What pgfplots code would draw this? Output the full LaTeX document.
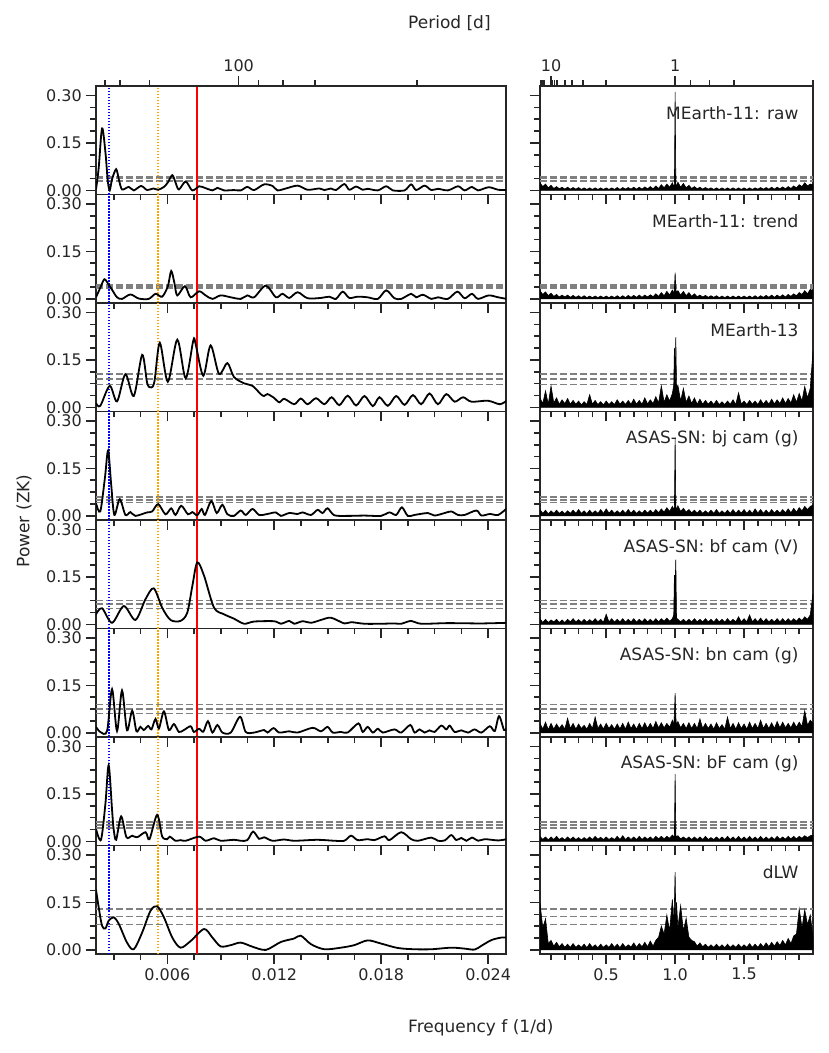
\documentclass[border=0pt]{standalone}
\usepackage{fontspec}
\setmainfont{DejaVu Sans}
\usepackage{pgfplots}
\usepackage{pgfplotstable}
\pgfplotsset{compat=1.18}
\definecolor{dk}{RGB}{38,38,38}
\definecolor{fapgray}{RGB}{128,128,128}
\definecolor{orng}{RGB}{255,165,0}
\newcommand{\tickfont}{\fontsize{16}{19}\selectfont}
\newcommand{\labfont}{\fontsize{17}{20}\selectfont}

\pgfplotstableread{
f r1 r2 r3 r4 r5 r6 r7 r8
0.02 0.024 0.026 0.030 0.020 0.018 0.030 0.016 0.148
0.04 0.012 0.014 0.012 0.008 0.006 0.012 0.006 0.070
0.06 0.020 0.022 0.052 0.018 0.016 0.034 0.014 0.098
0.08 0.008 0.010 0.010 0.006 0.006 0.010 0.005 0.020
0.10 0.016 0.018 0.068 0.016 0.014 0.030 0.014 0.030
0.12 0.006 0.008 0.014 0.008 0.008 0.012 0.006 0.012
0.14 0.012 0.014 0.030 0.018 0.016 0.028 0.016 0.024
0.16 0.005 0.006 0.010 0.008 0.006 0.014 0.006 0.010
0.18 0.010 0.012 0.024 0.015 0.014 0.026 0.012 0.020
0.20 0.004 0.006 0.012 0.007 0.006 0.012 0.005 0.008
0.22 0.010 0.012 0.028 0.016 0.016 0.046 0.014 0.018
0.24 0.004 0.005 0.010 0.008 0.008 0.014 0.006 0.008
0.26 0.009 0.011 0.022 0.018 0.018 0.030 0.014 0.020
0.28 0.004 0.005 0.010 0.008 0.008 0.012 0.006 0.008
0.30 0.009 0.010 0.020 0.020 0.015 0.028 0.012 0.016
0.32 0.003 0.004 0.008 0.008 0.007 0.014 0.005 0.008
0.34 0.008 0.010 0.018 0.016 0.016 0.024 0.012 0.018
0.36 0.003 0.004 0.009 0.007 0.007 0.012 0.006 0.007
0.38 0.008 0.009 0.040 0.018 0.015 0.030 0.014 0.020
0.40 0.003 0.004 0.010 0.008 0.008 0.014 0.006 0.008
0.42 0.008 0.009 0.022 0.016 0.018 0.050 0.016 0.016
0.44 0.003 0.004 0.009 0.008 0.008 0.014 0.007 0.007
0.46 0.008 0.009 0.018 0.020 0.016 0.028 0.013 0.018
0.48 0.003 0.004 0.008 0.008 0.007 0.012 0.006 0.008
0.50 0.008 0.009 0.020 0.022 0.032 0.030 0.014 0.016
0.52 0.003 0.004 0.009 0.009 0.008 0.014 0.006 0.008
0.54 0.008 0.009 0.018 0.018 0.018 0.026 0.012 0.020
0.56 0.003 0.004 0.009 0.008 0.007 0.012 0.006 0.008
0.58 0.009 0.010 0.024 0.016 0.016 0.028 0.016 0.018
0.60 0.003 0.004 0.010 0.008 0.008 0.013 0.006 0.007
0.62 0.009 0.010 0.020 0.018 0.018 0.030 0.018 0.020
0.64 0.004 0.004 0.009 0.008 0.007 0.012 0.006 0.008
0.66 0.009 0.011 0.022 0.020 0.016 0.034 0.014 0.016
0.68 0.004 0.005 0.010 0.009 0.008 0.014 0.006 0.009
0.70 0.010 0.011 0.026 0.018 0.018 0.028 0.014 0.022
0.72 0.004 0.005 0.010 0.008 0.007 0.012 0.006 0.008
0.74 0.010 0.012 0.022 0.016 0.016 0.030 0.016 0.020
0.76 0.004 0.005 0.010 0.008 0.008 0.014 0.006 0.010
0.78 0.011 0.012 0.030 0.018 0.018 0.032 0.014 0.024
0.80 0.005 0.006 0.011 0.009 0.008 0.014 0.007 0.010
0.82 0.012 0.013 0.024 0.018 0.016 0.030 0.014 0.028
0.84 0.005 0.007 0.012 0.009 0.008 0.014 0.006 0.012
0.86 0.014 0.016 0.034 0.020 0.018 0.036 0.016 0.030
0.88 0.006 0.008 0.014 0.010 0.008 0.016 0.008 0.040
0.90 0.018 0.020 0.068 0.022 0.018 0.032 0.016 0.075
0.92 0.008 0.010 0.016 0.012 0.010 0.016 0.008 0.050
0.94 0.020 0.024 0.040 0.026 0.020 0.030 0.016 0.110
0.96 0.010 0.012 0.020 0.014 0.010 0.018 0.010 0.060
0.98 0.024 0.028 0.044 0.030 0.018 0.040 0.020 0.160
0.99 0.012 0.018 0.070 0.020 0.030 0.024 0.014 0.080
0.995 0.020 0.030 0.188 0.030 0.156 0.060 0.020 0.150
1.00 0.311 0.083 0.060 0.247 0.120 0.126 0.213 0.246
1.005 0.022 0.030 0.222 0.030 0.205 0.050 0.020 0.100
1.01 0.012 0.020 0.060 0.020 0.020 0.024 0.014 0.150
1.02 0.026 0.026 0.070 0.032 0.016 0.036 0.018 0.070
1.04 0.010 0.012 0.020 0.014 0.008 0.016 0.008 0.140
1.06 0.022 0.024 0.060 0.024 0.016 0.030 0.014 0.060
1.08 0.008 0.010 0.016 0.012 0.008 0.014 0.007 0.100
1.10 0.016 0.020 0.036 0.020 0.016 0.032 0.014 0.040
1.12 0.006 0.008 0.012 0.010 0.008 0.014 0.006 0.030
1.14 0.012 0.016 0.030 0.018 0.018 0.030 0.014 0.026
1.16 0.005 0.007 0.010 0.009 0.008 0.014 0.006 0.012
1.18 0.010 0.012 0.026 0.018 0.016 0.044 0.014 0.022
1.20 0.004 0.006 0.010 0.008 0.008 0.014 0.006 0.010
1.22 0.009 0.011 0.022 0.016 0.018 0.030 0.016 0.018
1.24 0.004 0.005 0.010 0.008 0.008 0.014 0.006 0.008
1.26 0.008 0.010 0.020 0.018 0.016 0.028 0.012 0.016
1.28 0.003 0.005 0.009 0.008 0.007 0.012 0.006 0.008
1.30 0.008 0.010 0.022 0.020 0.018 0.032 0.014 0.018
1.32 0.003 0.004 0.009 0.008 0.008 0.014 0.006 0.008
1.34 0.008 0.009 0.018 0.016 0.016 0.026 0.014 0.016
1.36 0.003 0.004 0.009 0.008 0.007 0.012 0.006 0.007
1.38 0.008 0.009 0.020 0.018 0.018 0.050 0.016 0.018
1.40 0.003 0.004 0.010 0.008 0.008 0.014 0.006 0.008
1.42 0.008 0.009 0.024 0.020 0.016 0.030 0.014 0.016
1.44 0.003 0.004 0.009 0.008 0.008 0.012 0.006 0.008
1.46 0.008 0.009 0.046 0.018 0.024 0.032 0.016 0.018
1.48 0.003 0.004 0.010 0.009 0.008 0.014 0.006 0.008
1.50 0.008 0.009 0.020 0.020 0.018 0.028 0.014 0.016
1.52 0.003 0.004 0.009 0.008 0.008 0.012 0.006 0.008
1.54 0.008 0.009 0.022 0.018 0.030 0.034 0.016 0.020
1.56 0.003 0.004 0.010 0.008 0.008 0.014 0.006 0.008
1.58 0.008 0.010 0.020 0.022 0.018 0.030 0.014 0.018
1.60 0.004 0.004 0.009 0.009 0.008 0.014 0.006 0.008
1.62 0.009 0.010 0.024 0.020 0.020 0.040 0.016 0.020
1.64 0.004 0.005 0.010 0.008 0.008 0.014 0.006 0.009
1.66 0.009 0.011 0.022 0.018 0.018 0.030 0.014 0.022
1.68 0.004 0.005 0.010 0.008 0.008 0.014 0.006 0.010
1.70 0.010 0.012 0.026 0.020 0.016 0.032 0.014 0.024
1.72 0.004 0.005 0.011 0.009 0.008 0.014 0.006 0.012
1.74 0.010 0.012 0.024 0.018 0.018 0.036 0.016 0.026
1.76 0.005 0.006 0.012 0.009 0.008 0.016 0.007 0.014
1.78 0.011 0.013 0.030 0.020 0.018 0.034 0.014 0.030
1.80 0.005 0.006 0.012 0.010 0.008 0.016 0.007 0.016
1.82 0.012 0.014 0.028 0.022 0.018 0.030 0.016 0.036
1.84 0.006 0.008 0.014 0.010 0.009 0.016 0.008 0.020
1.86 0.014 0.016 0.040 0.024 0.018 0.034 0.016 0.044
1.88 0.008 0.010 0.016 0.012 0.010 0.018 0.008 0.050
1.90 0.018 0.020 0.044 0.026 0.020 0.034 0.016 0.130
1.92 0.012 0.014 0.020 0.016 0.012 0.020 0.010 0.070
1.94 0.024 0.026 0.066 0.030 0.024 0.070 0.018 0.126
1.96 0.014 0.016 0.030 0.020 0.016 0.024 0.012 0.080
1.98 0.020 0.030 0.060 0.030 0.030 0.040 0.018 0.110
2.00 0.018 0.026 0.177 0.034 0.096 0.030 0.020 0.040
}\rtab

\pgfplotsset{
  base/.style={
    scale only axis, height=108.5pt, anchor=north west,
    ymin=-0.013, ymax=0.33,
    ytick={0,0.15,0.3},
    minor ytick={0.0375,0.075,0.1125,0.1875,0.225,0.2625},
    line width=1.8pt,
    axis line style={draw=dk, line width=1.8pt},
    every tick/.style={draw=dk, line width=1.6pt},
    major tick length=10pt, minor tick length=6pt,
    tick align=outside,
    xtick pos=bottom, ytick pos=left,
    ticklabel style={font=\tickfont, text=dk},
    scaled x ticks=false, scaled y ticks=false,
    xticklabels={},
  },
  L/.style={base, width=410pt, xmin=0.002, xmax=0.025,
    xtick={0.006,0.012,0.018,0.024},
    minor xtick={0.003,0.0045,0.0075,0.009,0.0105,0.0135,0.015,0.0165,0.0195,0.021,0.0225},
    yticklabels={0.00,0.15,0.30}},
  R/.style={base, width=273pt, xmin=0.02, xmax=2.0,
    xtick={0.5,1.0,1.5},
    minor xtick={0.1,0.2,0.3,0.4,0.6,0.7,0.8,0.9,1.1,1.2,1.3,1.4,1.6,1.7,1.8,1.9},
    yticklabels={}},
  topax/.style={scale only axis, height=108.5pt, anchor=north west,
    ymin=-0.013, ymax=0.33,
    axis x line*=top, axis y line=none,
    line width=1.8pt,
    axis line style={draw=dk, line width=1.8pt},
    every tick/.style={draw=dk, line width=1.6pt},
    major tick length=10pt, minor tick length=6pt, tick align=outside,
    scaled x ticks=false,
    ticklabel style={font=\tickfont, text=dk}},
  curve/.style={black, line width=1.8pt, smooth, tension=0.5},
  fapline/.style={fapgray, line width=1.5pt, dash pattern=on 7pt off 3pt},
  spec/.style={draw=black, fill=black, line width=0.6pt},
}
\newcommand{\leftextras}[3]{%
  \addplot[fapline] coordinates {(0.002,#1)(0.025,#1)};
  \addplot[fapline] coordinates {(0.002,#2)(0.025,#2)};
  \addplot[fapline] coordinates {(0.002,#3)(0.025,#3)};
  \addplot[blue, line width=1.5pt, dash pattern=on 1.5pt off 1.5pt] coordinates {(0.00274,-0.013)(0.00274,0.33)};
  \addplot[orng, line width=1.5pt, dash pattern=on 1.5pt off 1.5pt] coordinates {(0.00548,-0.013)(0.00548,0.33)};
  \addplot[red, line width=1.5pt] coordinates {(0.00766,-0.013)(0.00766,0.33)};
}
\newcommand{\rightextras}[3]{%
  \addplot[fapline] coordinates {(0.02,#1)(2.0,#1)};
  \addplot[fapline] coordinates {(0.02,#2)(2.0,#2)};
  \addplot[fapline] coordinates {(0.02,#3)(2.0,#3)};
}
\newcommand{\rlabel}[1]{\node[anchor=east, font=\labfont, text=dk, inner sep=0pt] at (rel axis cs:0.95,0.75) {#1};}

\begin{document}
\begin{tikzpicture}
\useasboundingbox (0,0) rectangle (829pt,1053pt);

% ---------- Row 1: MEarth-11 raw
\begin{axis}[L, at={(96pt,967pt)}]
\leftextras{0.043}{0.037}{0.030}
\addplot[curve] coordinates {(0.00200,0.003)(0.00215,0.07)(0.00234,0.196)(0.00253,0.12)(0.00266,0.03)(0.00277,0.0)(0.00290,0.035)(0.00313,0.067)(0.00328,0.035)(0.00346,0.003)(0.00384,0.011)(0.00412,0.0)(0.00453,0.014)(0.00487,0.001)(0.00521,0.006)(0.00549,0.002)(0.00581,0.011)(0.00603,0.025)(0.00628,0.048)(0.00646,0.025)(0.00665,0.003)(0.00703,0.028)(0.00740,0.0)(0.00778,0.013)(0.00796,0.011)(0.00853,0.0)(0.00881,0.008)(0.00918,0.0)(0.00974,0.001)(0.01012,0.0)(0.01049,0.011)(0.01087,0.001)(0.01143,0.019)(0.01190,0.014)(0.01218,0.0)(0.01265,0.006)(0.01331,0.015)(0.01387,0.002)(0.01453,0.006)(0.01481,0.001)(0.01518,0.006)(0.01546,0.001)(0.01593,0.020)(0.01621,0.002)(0.01659,0.012)(0.01696,0.002)(0.01724,0.005)(0.01781,0.0)(0.01828,0.013)(0.01865,0.0)(0.01931,0.0)(0.01968,0.019)(0.01996,0.001)(0.02043,0.015)(0.02081,0.001)(0.02118,0.005)(0.02174,0.0)(0.02231,0.013)(0.02268,0.0)(0.02309,0.011)(0.02343,0.0)(0.02403,0.010)(0.02456,0.002)(0.02503,0.001)};
\end{axis}
\begin{axis}[topax, width=410pt, at={(96pt,967pt)},
  xmin=0.002, xmax=0.025,
  xtick={0.01}, xticklabels={100},
  minor xtick={0.0025,0.003333,0.005,0.011111,0.0125,0.014286,0.02}]
\addplot[draw=none] coordinates {(0.01,0.1)};
\end{axis}
\begin{axis}[R, at={(540pt,967pt)}]
\rightextras{0.043}{0.037}{0.030}
\addplot[spec] table[x=f,y=r1]{\rtab} \closedcycle;
\rlabel{MEarth-11: raw}
\end{axis}
\begin{axis}[topax, width=273pt, at={(540pt,967pt)},
  xmin=0.02, xmax=2.0,
  xtick={0.1,1}, xticklabels={10,1},
  minor xtick={0.025,0.0333,0.05,0.1111,0.125,0.1429,0.2,0.25,0.3333,0.5,1.1111,1.25,1.4286,2.0}]
\addplot[draw=none] coordinates {(1,0.1)};
\end{axis}

% ---------- Row 2: MEarth-11 trend
\begin{axis}[L, at={(96pt,858.5pt)}]
\leftextras{0.046}{0.040}{0.034}
\addplot[curve] coordinates {(0.00200,0.005)(0.00224,0.035)(0.00247,0.062)(0.00271,0.045)(0.00290,0.029)(0.00318,0.005)(0.00346,0.0)(0.00393,0.014)(0.00440,0.001)(0.00496,0.0)(0.00534,0.016)(0.00571,0.007)(0.00603,0.04)(0.00622,0.088)(0.00640,0.05)(0.00656,0.011)(0.00699,0.040)(0.00731,0.005)(0.00778,0.024)(0.00815,0.011)(0.00853,0.0)(0.00899,0.011)(0.00956,0.005)(0.01012,0.0)(0.01049,0.011)(0.01087,0.005)(0.01153,0.042)(0.01209,0.005)(0.01246,0.016)(0.01284,0.003)(0.01331,0.021)(0.01387,0.002)(0.01462,0.003)(0.01509,0.007)(0.01546,0.0)(0.01584,0.023)(0.01621,0.003)(0.01668,0.007)(0.01724,0.005)(0.01781,0.0)(0.01828,0.027)(0.01874,0.002)(0.01912,0.0)(0.01968,0.016)(0.01996,0.005)(0.02034,0.013)(0.02081,0.0)(0.02118,0.005)(0.02174,0.0)(0.02227,0.023)(0.02268,0.002)(0.02309,0.016)(0.02343,0.0)(0.02403,0.011)(0.02456,0.005)(0.02503,0.0)};
\end{axis}
\begin{axis}[R, at={(540pt,858.5pt)}]
\rightextras{0.046}{0.040}{0.034}
\addplot[spec] table[x=f,y=r2]{\rtab} \closedcycle;
\rlabel{MEarth-11: trend}
\end{axis}

% ---------- Row 3: MEarth-13
\begin{axis}[L, at={(96pt,750pt)}]
\leftextras{0.106}{0.090}{0.073}
\addplot[curve] coordinates {(0.00200,0.013)(0.00224,0.005)(0.00277,0.068)(0.00318,0.019)(0.00365,0.105)(0.00412,0.036)(0.00459,0.166)(0.00487,0.077)(0.00509,0.063)(0.00528,0.082)(0.00558,0.204)(0.00603,0.081)(0.00656,0.214)(0.00703,0.092)(0.00746,0.212)(0.00759,0.20)(0.00802,0.100)(0.00843,0.196)(0.00890,0.106)(0.00937,0.140)(0.00974,0.096)(0.01031,0.076)(0.01078,0.068)(0.01124,0.042)(0.01143,0.036)(0.01162,0.042)(0.01199,0.030)(0.01228,0.016)(0.01256,0.027)(0.01312,0.010)(0.01349,0.028)(0.01387,0.010)(0.01434,0.029)(0.01481,0.010)(0.01522,0.032)(0.01565,0.007)(0.01612,0.037)(0.01659,0.006)(0.01706,0.036)(0.01753,0.004)(0.01790,0.032)(0.01837,0.005)(0.01884,0.036)(0.01931,0.008)(0.01978,0.039)(0.02024,0.010)(0.02071,0.044)(0.02118,0.010)(0.02165,0.042)(0.02212,0.018)(0.02259,0.032)(0.02306,0.018)(0.02399,0.021)(0.02465,0.010)(0.02503,0.021)};
\end{axis}
\begin{axis}[R, at={(540pt,750pt)}]
\rightextras{0.106}{0.090}{0.073}
\addplot[spec] table[x=f,y=r3]{\rtab} \closedcycle;
\rlabel{MEarth-13}
\end{axis}

% ---------- Row 4: ASAS-SN bj
\begin{axis}[L, at={(96pt,641.5pt)}]
\leftextras{0.060}{0.051}{0.042}
\addplot[curve] coordinates {(0.00200,0.040)(0.00224,0.014)(0.00250,0.12)(0.00268,0.207)(0.00285,0.10)(0.00303,0.003)(0.00333,0.053)(0.00365,0.003)(0.00393,0.012)(0.00421,0.0)(0.00487,0.011)(0.00515,0.014)(0.00549,0.037)(0.00590,0.005)(0.00622,0.024)(0.00646,0.003)(0.00678,0.032)(0.00716,0.005)(0.00740,0.012)(0.00768,0.002)(0.00793,0.022)(0.00811,0.003)(0.00847,0.047)(0.00877,0.009)(0.00909,0.035)(0.00937,0.005)(0.00974,0.0)(0.01012,0.017)(0.01040,0.003)(0.01078,0.022)(0.01115,0.003)(0.01162,0.006)(0.01209,0.011)(0.01237,0.0)(0.01284,0.009)(0.01331,0.006)(0.01359,0.011)(0.01406,0.003)(0.01443,0.019)(0.01471,0.009)(0.01499,0.024)(0.01537,0.002)(0.01612,0.0)(0.01706,0.001)(0.01799,0.0)(0.01846,0.011)(0.01884,0.003)(0.01916,0.027)(0.01949,0.0)(0.01987,0.003)(0.02062,0.009)(0.02099,0.001)(0.02156,0.009)(0.02193,0.014)(0.02231,0.003)(0.02268,0.003)(0.02334,0.017)(0.02362,0.001)(0.02409,0.006)(0.02456,0.003)(0.02503,0.023)};
\end{axis}
\begin{axis}[R, at={(540pt,641.5pt)}]
\rightextras{0.060}{0.051}{0.042}
\addplot[spec] table[x=f,y=r4]{\rtab} \closedcycle;
\rlabel{ASAS-SN: bj cam (g)}
\end{axis}

% ---------- Row 5: ASAS-SN bf V
\begin{axis}[L, at={(96pt,533pt)}]
\leftextras{0.076}{0.064}{0.051}
\addplot[curve] coordinates {(0.00200,0.032)(0.00234,0.051)(0.00290,0.005)(0.00356,0.058)(0.00421,0.014)(0.00478,0.08)(0.00524,0.114)(0.00571,0.053)(0.00618,0.014)(0.00674,0.011)(0.00712,0.037)(0.00740,0.12)(0.00768,0.196)(0.00806,0.154)(0.00862,0.053)(0.00918,0.032)(0.00974,0.018)(0.01031,0.002)(0.01087,0.009)(0.01199,0.010)(0.01237,0.002)(0.01284,0.011)(0.01312,0.002)(0.01359,0.010)(0.01406,0.005)(0.01462,0.014)(0.01518,0.021)(0.01593,0.003)(0.01631,0.007)(0.01706,0.002)(0.01799,0.002)(0.01874,0.003)(0.01912,0.002)(0.01968,0.011)(0.02024,0.002)(0.02174,0.004)(0.02362,0.003)(0.02503,0.005)};
\end{axis}
\begin{axis}[R, at={(540pt,533pt)}]
\rightextras{0.076}{0.064}{0.051}
\addplot[spec] table[x=f,y=r5]{\rtab} \closedcycle;
\rlabel{ASAS-SN: bf cam (V)}
\end{axis}

% ---------- Row 6: ASAS-SN bn
\begin{axis}[L, at={(96pt,424.5pt)}]
\leftextras{0.090}{0.076}{0.061}
\addplot[curve] coordinates {(0.00200,0.019)(0.00224,0.003)(0.00262,0.006)(0.00290,0.138)(0.00318,0.006)(0.00346,0.134)(0.00374,0.008)(0.00403,0.070)(0.00427,0.005)(0.00449,0.019)(0.00468,0.009)(0.00493,0.022)(0.00511,0.011)(0.00534,0.044)(0.00553,0.014)(0.00581,0.068)(0.00609,0.009)(0.00637,0.028)(0.00665,0.003)(0.00693,0.009)(0.00731,0.021)(0.00749,0.003)(0.00778,0.013)(0.00802,0.004)(0.00828,0.037)(0.00853,0.001)(0.00881,0.025)(0.00909,0.001)(0.00956,0.001)(0.01008,0.051)(0.01040,0.003)(0.01087,0.001)(0.01143,0.009)(0.01162,0.001)(0.01196,0.015)(0.01228,0.001)(0.01284,0.005)(0.01331,0.001)(0.01415,0.016)(0.01462,0.005)(0.01499,0.019)(0.01528,0.001)(0.01574,0.003)(0.01612,0.001)(0.01672,0.030)(0.01696,0.003)(0.01724,0.019)(0.01753,0.001)(0.01781,0.013)(0.01809,0.001)(0.01874,0.011)(0.01912,0.001)(0.01963,0.025)(0.01987,0.001)(0.02015,0.011)(0.02043,0.001)(0.02071,0.008)(0.02099,0.003)(0.02137,0.023)(0.02165,0.011)(0.02184,0.023)(0.02212,0.003)(0.02249,0.008)(0.02287,0.001)(0.02324,0.011)(0.02362,0.001)(0.02409,0.021)(0.02437,0.006)(0.02461,0.053)(0.02489,0.009)(0.02503,0.014)};
\end{axis}
\begin{axis}[R, at={(540pt,424.5pt)}]
\rightextras{0.090}{0.076}{0.061}
\addplot[spec] table[x=f,y=r6]{\rtab} \closedcycle;
\rlabel{ASAS-SN: bn cam (g)}
\end{axis}

% ---------- Row 7: ASAS-SN bF
\begin{axis}[L, at={(96pt,316pt)}]
\leftextras{0.061}{0.052}{0.042}
\addplot[curve] coordinates {(0.00200,0.039)(0.00228,0.005)(0.00253,0.12)(0.00271,0.241)(0.00290,0.10)(0.00299,0.039)(0.00313,0.005)(0.00341,0.079)(0.00371,0.013)(0.00403,0.018)(0.00431,0.013)(0.00478,0.029)(0.00500,0.007)(0.00543,0.084)(0.00571,0.016)(0.00599,0.007)(0.00614,0.015)(0.00646,0.002)(0.00674,0.004)(0.00703,0.002)(0.00778,0.015)(0.00815,0.002)(0.00862,0.010)(0.00899,0.002)(0.00974,0.005)(0.01012,0.002)(0.01049,0.004)(0.01081,0.031)(0.01115,0.008)(0.01143,0.013)(0.01190,0.002)(0.01256,0.006)(0.01312,0.002)(0.01443,0.005)(0.01537,0.002)(0.01593,0.002)(0.01631,0.018)(0.01668,0.004)(0.01724,0.007)(0.01762,0.004)(0.01818,0.016)(0.01846,0.004)(0.01912,0.029)(0.01968,0.007)(0.02006,0.002)(0.02081,0.012)(0.02118,0.002)(0.02156,0.003)(0.02193,0.020)(0.02221,0.004)(0.02249,0.011)(0.02278,0.002)(0.02309,0.012)(0.02343,0.002)(0.02381,0.007)(0.02456,0.003)(0.02503,0.007)};
\end{axis}
\begin{axis}[R, at={(540pt,316pt)}]
\rightextras{0.061}{0.052}{0.042}
\addplot[spec] table[x=f,y=r7]{\rtab} \closedcycle;
\rlabel{ASAS-SN: bF cam (g)}
\end{axis}

% ---------- Row 8: dLW
\begin{axis}[L, at={(96pt,207.5pt)}, xticklabels={0.006,0.012,0.018,0.024}]
\leftextras{0.129}{0.106}{0.081}
\addplot[curve] coordinates {(0.00200,0.19)(0.00215,0.135)(0.00234,0.076)(0.00253,0.068)(0.00271,0.092)(0.00299,0.103)(0.00328,0.082)(0.00374,0.023)(0.00412,0.002)(0.00459,0.055)(0.00506,0.124)(0.00543,0.138)(0.00581,0.103)(0.00628,0.039)(0.00674,0.007)(0.00731,0.028)(0.00806,0.066)(0.00853,0.039)(0.00899,0.011)(0.00956,0.015)(0.01012,0.023)(0.01078,0.010)(0.01153,0.0)(0.01237,0.025)(0.01312,0.036)(0.01349,0.045)(0.01406,0.018)(0.01481,0.002)(0.01574,0.007)(0.01649,0.015)(0.01724,0.030)(0.01799,0.020)(0.01893,0.006)(0.01987,0.002)(0.02081,0.002)(0.02193,0.007)(0.02268,0.004)(0.02324,0.001)(0.02362,0.013)(0.02418,0.031)(0.02474,0.039)(0.02503,0.039)};
\end{axis}
\begin{axis}[R, at={(540pt,207.5pt)}, xticklabels={0.5,1.0,1.5}]
\rightextras{0.129}{0.106}{0.081}
\addplot[spec] table[x=f,y=r8]{\rtab} \closedcycle;
\rlabel{dLW}
\end{axis}

% ---------- global labels
\node[anchor=west, font=\labfont, text=dk, inner sep=0pt] at (408pt,1030pt) {Period [d]};
\node[anchor=west, font=\labfont, text=dk, inner sep=0pt] at (408pt,25pt) {Frequency f (1/d)};
\node[rotate=90, font=\labfont, text=dk, inner sep=0pt] at (24pt,532pt) {Power (ZK)};
\end{tikzpicture}
\end{document}
